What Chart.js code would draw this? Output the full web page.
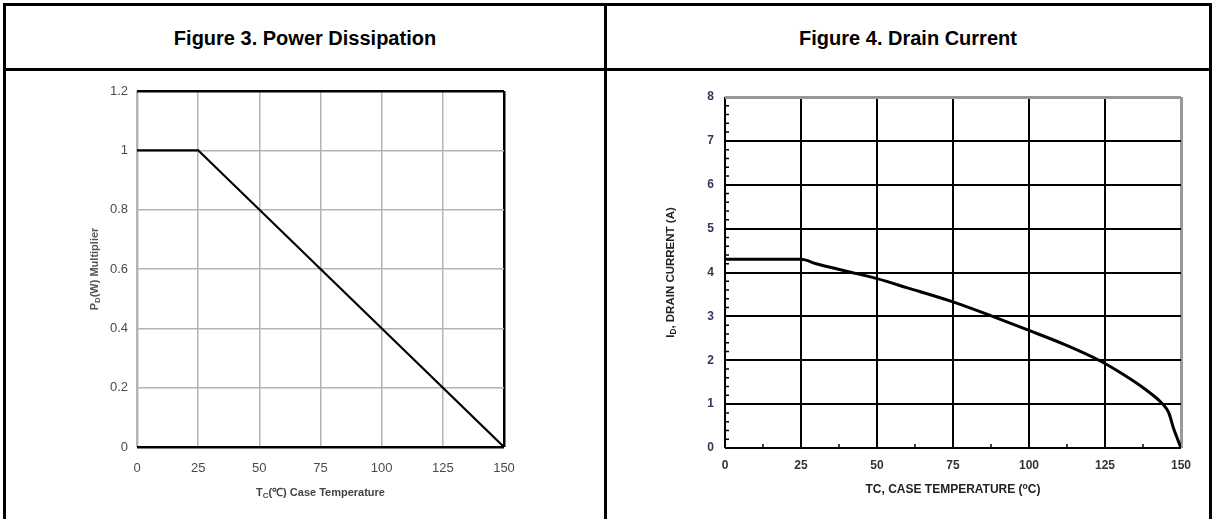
<!DOCTYPE html>
<html>
<head>
<meta charset="utf-8">
<script src="https://cdn.jsdelivr.net/npm/chart.js@4/dist/chart.umd.min.js"></script>
<style>
body { margin: 0; background: #fff; font-family: "Liberation Sans", Arial, sans-serif; }
.line { position: absolute; background: #000; z-index: 2; }
.head { position: absolute; top: 6px; height: 62px; line-height: 64px; text-align: center; font-weight: bold; font-size: 20px; color: #000; }
canvas { position: absolute; top: 72px; }
</style>
</head>
<body>
<div class="line" style="left:3px;top:3px;width:1209px;height:3px"></div>
<div class="line" style="left:3px;top:3px;width:3px;height:520px"></div>
<div class="line" style="left:1209px;top:3px;width:3px;height:520px"></div>
<div class="line" style="left:604px;top:3px;width:3px;height:520px"></div>
<div class="line" style="left:3px;top:68px;width:1209px;height:3px"></div>
<div class="head" style="left:6px;width:598px">Figure 3. Power Dissipation</div>
<div class="head" style="left:607px;width:602px">Figure 4. Drain Current</div>
<canvas id="pdChart" width="607" height="447" style="left:0"></canvas>
<canvas id="idChart" width="607" height="447" style="left:607px"></canvas>
<script>
// Figure 3 data
const pdTemp = [0, 25, 150];
const pdMult = [1, 1, 0];
const pdYTicks = [0, 0.2, 0.4, 0.6, 0.8, 1, 1.2];

// Figure 4 data
const idTemp = [0, 25, 30, 40, 50, 60, 75, 88, 100, 112, 123, 130, 138, 144, 146, 147.4, 149, 150];
const idAmps = [4.3, 4.3, 4.2, 4.03, 3.86, 3.65, 3.33, 3.0, 2.68, 2.35, 2.0, 1.72, 1.35, 1.0, 0.8, 0.48, 0.18, 0];
const tempTicks = [0, 25, 50, 75, 100, 125, 150];

const FONT = '"Liberation Sans", Arial, sans-serif';

// draws a text made of normal / subscript / superscript parts, centred on (x, y)
function drawParts(ctx, parts, x, y, size, color, rotate) {
    ctx.save();
    ctx.translate(x, y);
    if (rotate) ctx.rotate(-Math.PI / 2);
    ctx.fillStyle = color;
    ctx.textBaseline = 'middle';
    ctx.textAlign = 'left';
    const fsize = p => (p.sub || p.sup) ? size * 0.72 : size;
    let total = 0;
    parts.forEach(p => {
        ctx.font = 'bold ' + fsize(p) + 'px ' + FONT;
        p.w = ctx.measureText(p.t).width;
        total += p.w;
    });
    let cx = -total / 2;
    parts.forEach(p => {
        ctx.font = 'bold ' + fsize(p) + 'px ' + FONT;
        ctx.fillText(p.t, cx, p.sub ? size * 0.25 : (p.sup ? -size * 0.25 : 0));
        cx += p.w;
    });
    ctx.restore();
}

const pdTitles = {
    id: 'pdTitles',
    afterDraw(chart) {
        const a = chart.chartArea, ctx = chart.ctx;
        drawParts(ctx, [{t: 'P'}, {t: 'D', sub: true}, {t: '(W) Multiplier'}], 95, (a.top + a.bottom) / 2, 11, '#555', true);
        drawParts(ctx, [{t: 'T'}, {t: 'C', sub: true}, {t: '(℃) Case Temperature'}], (a.left + a.right) / 2, 421, 11, '#444', false);
    }
};

const idExtras = {
    id: 'idExtras',
    afterDraw(chart) {
        const a = chart.chartArea, ctx = chart.ctx;
        const xs = chart.scales.x, ys = chart.scales.y;
        ctx.save();
        ctx.strokeStyle = '#000';
        ctx.lineWidth = 1.5;
        ctx.beginPath();
        for (let v = 0.2; v < 8; v += 0.2) {
            if (Math.abs(v - Math.round(v)) < 0.01) continue;
            const py = ys.getPixelForValue(v);
            ctx.moveTo(a.left, py); ctx.lineTo(a.left + 4, py);
        }
        for (let v = 12.5; v < 150; v += 25) {
            const px = xs.getPixelForValue(v);
            ctx.moveTo(px, a.bottom); ctx.lineTo(px, a.bottom - 4);
        }
        ctx.stroke();
        ctx.restore();
        drawParts(ctx, [{t: 'I'}, {t: 'D', sub: true}, {t: ', DRAIN CURRENT (A)'}], 64, (a.top + a.bottom) / 2, 11.5, '#222', true);
        drawParts(ctx, [{t: 'TC, CASE TEMPERATURE ('}, {t: 'o', sup: true}, {t: 'C)'}], (a.left + a.right) / 2, 418, 12, '#222', false);
    }
};

new Chart(document.getElementById('pdChart'), {
    type: 'line',
    data: {
        datasets: [{
            data: pdTemp.map((t, i) => ({x: t, y: pdMult[i]})),
            borderColor: '#000',
            borderWidth: 2.2,
            pointRadius: 0,
            tension: 0
        }]
    },
    options: {
        responsive: false,
        animation: false,
        layout: {padding: {left: 97, right: 103, top: 19, bottom: 0}},
        plugins: {legend: {display: false}, tooltip: {enabled: false}},
        scales: {
            x: {
                type: 'linear', min: 0, max: 150,
                afterBuildTicks: s => { s.ticks = tempTicks.map(v => ({value: v})); },
                afterFit: s => { s.height = 72; },
                border: {display: false},
                grid: {
                    drawTicks: false,
                    color: c => c.tick.value === 150 ? '#000' : '#b4b4b4',
                    lineWidth: c => c.tick.value === 150 ? 2.5 : (c.tick.value === 0 ? 2.5 : 1.5)
                },
                ticks: {padding: 14, color: '#4a4a4a', font: {family: FONT, size: 13}}
            },
            y: {
                min: 0, max: 1.2,
                afterBuildTicks: s => { s.ticks = pdYTicks.map(v => ({value: v})); },
                afterFit: s => { s.width = 40; },
                border: {display: false},
                grid: {
                    drawTicks: false,
                    color: c => (c.tick.value === 0 || c.tick.value === 1.2) ? '#000' : '#b4b4b4',
                    lineWidth: c => (c.tick.value === 0 || c.tick.value === 1.2) ? 2.5 : 1.5
                },
                ticks: {
                    padding: 9, color: '#4a4a4a', font: {family: FONT, size: 13},
                    callback: v => String(+v.toFixed(1))
                }
            }
        }
    },
    plugins: [pdTitles]
});

new Chart(document.getElementById('idChart'), {
    type: 'line',
    data: {
        datasets: [{
            data: idTemp.map((t, i) => ({x: t, y: idAmps[i]})),
            borderColor: '#000',
            borderWidth: 3,
            pointRadius: 0,
            cubicInterpolationMode: 'monotone'
        }]
    },
    options: {
        responsive: false,
        animation: false,
        layout: {padding: {left: 78, right: 33, top: 25, bottom: 0}},
        plugins: {legend: {display: false}, tooltip: {enabled: false}},
        scales: {
            x: {
                type: 'linear', min: 0, max: 150,
                afterBuildTicks: s => { s.ticks = tempTicks.map(v => ({value: v})); },
                afterFit: s => { s.height = 71; },
                border: {display: false},
                grid: {
                    drawTicks: false,
                    color: c => c.tick.value === 150 ? '#999' : '#000',
                    lineWidth: c => c.tick.value === 150 ? 3 : 2
                },
                ticks: {padding: 10, color: '#333', font: {family: FONT, size: 12, weight: 'bold'}}
            },
            y: {
                min: 0, max: 8,
                ticks: {stepSize: 1, padding: 11, color: '#3a3358', font: {family: FONT, size: 12, weight: 'bold'}},
                afterFit: s => { s.width = 40; },
                border: {display: false},
                grid: {
                    drawTicks: false,
                    color: c => c.tick.value === 8 ? '#999' : '#000',
                    lineWidth: c => c.tick.value === 8 ? 3 : 2
                }
            }
        }
    },
    plugins: [idExtras]
});
</script>
</body>
</html>
